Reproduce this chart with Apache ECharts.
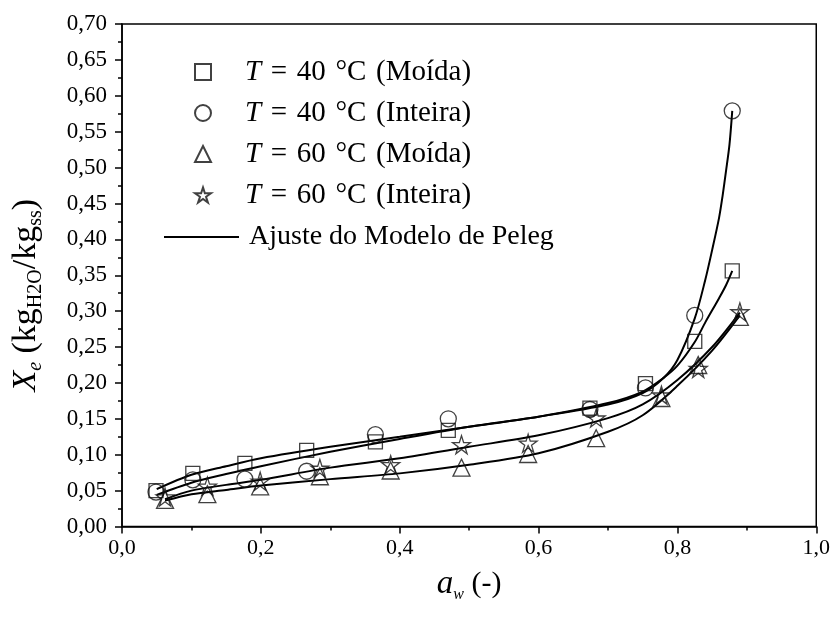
<!DOCTYPE html>
<html><head><meta charset="utf-8">
<script src="https://cdn.jsdelivr.net/npm/echarts@6/dist/echarts.min.js"></script>
<style>html,body{margin:0;padding:0;background:#fff}#c{width:833px;height:619px}</style>
</head><body><div id="c"></div>
<script>
// Experimental points
const aw40 = [0.049, 0.102, 0.177, 0.266, 0.365, 0.470, 0.674, 0.754, 0.825, 0.879];
const xe40Moida = [0.050, 0.074, 0.088, 0.106, 0.118, 0.134, 0.165, 0.199, 0.258, 0.356];
const xe40Inteira = [0.048, 0.065, 0.066, 0.077, 0.128, 0.150, 0.163, 0.193, 0.294, 0.579];
const aw60 = [0.062, 0.123, 0.199, 0.285, 0.387, 0.489, 0.585, 0.683, 0.777, 0.830, 0.890];
const xe60Moida = [0.037, 0.045, 0.056, 0.070, 0.078, 0.082, 0.101, 0.123, 0.179, 0.225, 0.292];
const xe60Inteira = [0.041, 0.056, 0.063, 0.081, 0.086, 0.114, 0.116, 0.151, 0.183, 0.220, 0.299];
// Fitted Peleg curves
const fitAw40M = [0.05, 0.1, 0.15, 0.2, 0.3, 0.4, 0.5, 0.6, 0.7, 0.75, 0.78, 0.8, 0.825, 0.84, 0.86, 0.87, 0.879];
const fit40Moida = [0.052, 0.072, 0.084, 0.095, 0.111, 0.125, 0.139, 0.153, 0.172, 0.188, 0.207, 0.224, 0.257, 0.284, 0.318, 0.336, 0.356];
const fitAw40I = [0.05, 0.1, 0.15, 0.2, 0.3, 0.4, 0.5, 0.6, 0.7, 0.75, 0.78, 0.8, 0.825, 0.84, 0.85, 0.86, 0.865, 0.87, 0.875, 0.879];
const fit40Inteira = [0.044, 0.061, 0.073, 0.084, 0.104, 0.122, 0.139, 0.153, 0.170, 0.186, 0.207, 0.232, 0.290, 0.343, 0.385, 0.430, 0.460, 0.495, 0.532, 0.579];
const fitAw60 = [0.062, 0.1, 0.15, 0.2, 0.3, 0.4, 0.5, 0.6, 0.7, 0.75, 0.8, 0.85, 0.89];
const fit60Moida = [0.036, 0.045, 0.051, 0.057, 0.066, 0.074, 0.086, 0.102, 0.132, 0.155, 0.196, 0.245, 0.294];
const fit60Inteira = [0.038, 0.050, 0.058, 0.065, 0.082, 0.095, 0.111, 0.127, 0.151, 0.170, 0.204, 0.250, 0.298];
const seriesNames = ['T = 40 °C (Moída)', 'T = 40 °C (Inteira)', 'T = 60 °C (Moída)', 'T = 60 °C (Inteira)'];
const fitName = 'Ajuste do Modelo de Peleg';

const zip = (xs, ys) => xs.map((x, i) => [x, ys[i]]);
const FONT = 'Liberation Serif';
const STAR = 'path://M50 0 L61.17 34.63 L97.55 34.55 L68.07 55.87 L79.39 90.45 L50 69 L20.61 90.45 L31.93 55.87 L2.45 34.55 L38.83 34.63 Z';

const markerStyle = {color: 'rgba(0,0,0,0)', borderColor: '#111', borderWidth: 1.3};
function scatter(name, data, symbol, size) {
  return {type: 'scatter', name, data, symbol, symbolSize: size, itemStyle: markerStyle, z: 3};
}
function fit(data) {
  return {type: 'line', name: fitName, data, symbol: 'none', showSymbol: false, smooth: 0.3,
    lineStyle: {color: '#000', width: 2}, itemStyle: {color: '#000', opacity: 0}, z: 2};
}

const chart = echarts.init(document.getElementById('c'), null, {renderer: 'canvas'});
const txt = {fontFamily: FONT, color: '#000'};
const sp = '\u2004';
chart.setOption({
  animation: false,
  backgroundColor: '#fff',
  grid: {left: 122, right: 16, top: 24, bottom: 92.5, show: true, borderColor: '#000', borderWidth: 1.5, backgroundColor: 'rgba(0,0,0,0)'},
  xAxis: {
    type: 'value', min: 0, max: 1, interval: 0.2,
    axisLine: {lineStyle: {color: '#000', width: 1.5}},
    axisTick: {length: 7, lineStyle: {color: '#000', width: 1.5}},
    minorTick: {show: true, splitNumber: 2, length: 4, lineStyle: {color: '#000', width: 1.5}},
    splitLine: {show: false},
    axisLabel: {...txt, fontSize: 22, margin: 11, formatter: v => v.toFixed(1).replace('.', ',')},
    name: '{a|a}{w|w}{n| (-)}', nameLocation: 'middle', nameGap: 40,
    nameTextStyle: {...txt, rich: {
      a: {...txt, fontSize: 33, fontStyle: 'italic', lineHeight: 36},
      w: {...txt, fontSize: 16, fontStyle: 'italic', verticalAlign: 'bottom', lineHeight: 12},
      n: {...txt, fontSize: 30, lineHeight: 36}
    }}
  },
  yAxis: {
    type: 'value', min: 0, max: 0.7, interval: 0.05,
    axisLine: {lineStyle: {color: '#000', width: 1.5}},
    axisTick: {length: 7, lineStyle: {color: '#000', width: 1.5}},
    minorTick: {show: true, splitNumber: 2, length: 4, lineStyle: {color: '#000', width: 1.5}},
    splitLine: {show: false},
    axisLabel: {...txt, fontSize: 23, margin: 15, formatter: v => v.toFixed(2).replace('.', ',')},
    name: '{x|X}{e|e}{n| (kg}{s|H2O}{n|/kg}{s|ss}{p|)}', nameLocation: 'middle', nameGap: 76, nameRotate: 90,
    nameTextStyle: {...txt, rich: {
      x: {...txt, fontSize: 34, fontStyle: 'italic', lineHeight: 40},
      e: {...txt, fontSize: 20, fontStyle: 'italic', verticalAlign: 'bottom', lineHeight: 15},
      n: {...txt, fontSize: 34, lineHeight: 40},
      s: {...txt, fontSize: 20, verticalAlign: 'bottom', lineHeight: 15},
      p: {...txt, fontSize: 34, lineHeight: 40, padding: [0, 40, 0, 0]}
    }}
  },
  legend: [{
    orient: 'vertical', left: 194, top: 57, padding: 0, itemWidth: 16, itemHeight: 16, itemGap: 11,
    selectedMode: false, data: seriesNames,
    formatter: n => '{sp|}{i|T}' + n.slice(1).split(' ').join(sp),
    textStyle: {...txt, fontSize: 29, lineHeight: 30, rich: {
      sp: {width: 29}, i: {...txt, fontSize: 29, fontStyle: 'italic', lineHeight: 30}
    }}
  }, {
    orient: 'vertical', left: 163, top: 222, padding: 0, itemWidth: 75, itemHeight: 16,
    selectedMode: false, data: [{name: fitName, itemStyle: {opacity: 0}}],
    formatter: n => '{sp|}' + n,
    textStyle: {...txt, fontSize: 28, lineHeight: 30, rich: {sp: {width: 5}}}
  }],
  series: [
    scatter(seriesNames[0], zip(aw40, xe40Moida), 'rect', 14),
    scatter(seriesNames[1], zip(aw40, xe40Inteira), 'circle', 16),
    scatter(seriesNames[2], zip(aw60, xe60Moida), 'triangle', 17),
    scatter(seriesNames[3], zip(aw60, xe60Inteira), STAR, 18),
    fit(zip(fitAw40M, fit40Moida)),
    fit(zip(fitAw40I, fit40Inteira)),
    fit(zip(fitAw60, fit60Moida)),
    fit(zip(fitAw60, fit60Inteira))
  ]
});
</script></body></html>
